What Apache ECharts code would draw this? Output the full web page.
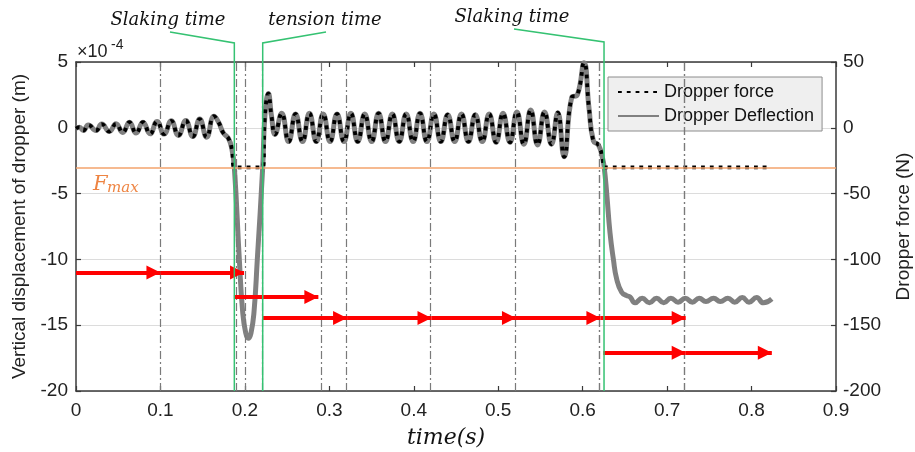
<!DOCTYPE html>
<html>
<head>
<meta charset="utf-8">
<script src="https://cdn.jsdelivr.net/npm/echarts@6/dist/echarts.min.js"></script>
<style>
html, body { margin: 0; padding: 0; background: #fff; }
#chart { width: 915px; height: 452px; }
</style>
</head>
<body>
<div id="chart"></div>
<script>
// 挠度曲线 (x10^-4 m)
const deflTime = [
  0.000, 0.004, 0.0087, 0.0146, 0.0237, 0.0305, 0.0395, 0.0474, 0.0553, 0.0632,
  0.0712, 0.0793, 0.0877, 0.0960, 0.1043, 0.1128, 0.1212, 0.1300, 0.1383, 0.1465,
  0.1547, 0.1634, 0.1690, 0.1745, 0.1805, 0.1845, 0.1875,
  0.1934, 0.1974, 0.2010, 0.2040, 0.2072, 0.2108, 0.2147, 0.2211,
  0.2238, 0.2278, 0.2315, 0.2357,
  0.2436, 0.2518, 0.2600, 0.2682, 0.2764, 0.2846, 0.2927, 0.3009, 0.3091, 0.3173,
  0.3255, 0.3337, 0.3419, 0.3501, 0.3583, 0.3665, 0.3746, 0.3828, 0.3910, 0.3992,
  0.4074, 0.4156, 0.4238, 0.4320, 0.4402, 0.4484, 0.4565, 0.4647, 0.4729, 0.4811,
  0.4893, 0.4975, 0.5057, 0.5139, 0.5221, 0.5303, 0.5384, 0.5466, 0.5548, 0.5630,
  0.5705, 0.5780, 0.5870, 0.5937, 0.6016, 0.6075, 0.6127, 0.6186, 0.6235, 0.6255,
  0.6285, 0.6324, 0.6364, 0.6403, 0.6462, 0.6520, 0.6560,
  0.6620, 0.6705, 0.6790, 0.6875, 0.6960, 0.7045, 0.7130, 0.7215, 0.7300, 0.7380,
  0.7460, 0.7550, 0.7630, 0.7720, 0.7800, 0.7890, 0.7970, 0.8060, 0.8140, 0.8240
]
const deflection = [
  -0.05, 0.05, -0.2, 0.22, -0.2, 0.28, -0.28, 0.3, -0.35, 0.42,
  -0.4, 0.43, -0.46, 0.48, -0.48, 0.53, -0.58, 0.55, -0.66, 0.66,
  -0.71, 0.88, 0.4, -0.4, -0.8, -1.6, -3.0,
  -10, -14, -15.6, -16, -15.6, -14, -10, -3.0,
  1.0, 2.6, 0.9, -0.5,
  1.1, -1.05, 1.05, -1.05, 1.1, -1.05, 1.05, -1.05, 1.05, -1.05,
  1.1, -1.05, 1.05, -1.05, 1.1, -1.05, 1.05, -1.05, 1.05, -1.05,
  1.1, -1.05, 1.05, -1.05, 1.0, -1.05, 1.05, -1.05, 1.0, -1.05,
  1.05, -1.1, 1.1, -1.1, 1.2, -1.25, 1.35, -1.3, 1.2, -1.25,
  1.15, -2.2, 2.3, 2.5, 4.95, 1.5, -1.0, -1.3, -2.3, -3.0,
  -5.0, -8.0, -10.0, -11.5, -12.5, -12.75, -12.85,
  -13.3, -12.95, -13.3, -12.95, -13.3, -12.95, -13.25, -12.95, -13.25, -12.95,
  -13.2, -12.95, -13.2, -12.95, -13.25, -12.9, -13.25, -12.9, -13.3, -13.0
]

// 吊弦力 (N)
const forceTime = [
  0.000, 0.004, 0.0087, 0.0146, 0.0237, 0.0305, 0.0395, 0.0474, 0.0553, 0.0632,
  0.0712, 0.0793, 0.0877, 0.0960, 0.1043, 0.1128, 0.1212, 0.1300, 0.1383, 0.1465,
  0.1547, 0.1634, 0.1690, 0.1745, 0.1805, 0.1845, 0.1875,
  0.2211,
  0.2238, 0.2278, 0.2315, 0.2357,
  0.2436, 0.2518, 0.2600, 0.2682, 0.2764, 0.2846, 0.2927, 0.3009, 0.3091, 0.3173,
  0.3255, 0.3337, 0.3419, 0.3501, 0.3583, 0.3665, 0.3746, 0.3828, 0.3910, 0.3992,
  0.4074, 0.4156, 0.4238, 0.4320, 0.4402, 0.4484, 0.4565, 0.4647, 0.4729, 0.4811,
  0.4893, 0.4975, 0.5057, 0.5139, 0.5221, 0.5303, 0.5384, 0.5466, 0.5548, 0.5630,
  0.5705, 0.5780, 0.5870, 0.5937, 0.6016, 0.6075, 0.6127, 0.6186, 0.6235, 0.6255,
  0.8200
]
const force = [
  -0.5, 0.5, -2, 2.2, -2, 2.8, -2.8, 3, -3.5, 4.2,
  -4, 4.3, -4.6, 4.8, -4.8, 5.3, -5.8, 5.5, -6.6, 6.6,
  -7.1, 8.8, 4, -4, -8, -16, -30,
  -30,
  10, 26, 9, -5,
  11, -10.5, 10.5, -10.5, 11, -10.5, 10.5, -10.5, 10.5, -10.5,
  11, -10.5, 10.5, -10.5, 11, -10.5, 10.5, -10.5, 10.5, -10.5,
  11, -10.5, 10.5, -10.5, 10, -10.5, 10.5, -10.5, 10, -10.5,
  10.5, -11, 11, -11, 12, -12.5, 13.5, -13, 12, -12.5,
  11.5, -22, 23, 25, 49.5, 15, -10, -13, -23, -30,
  -30
]

// 点划线竖线位置 (s)
const dashLines = [0.1, 0.1855, 0.1993, 0.2199, 0.287, 0.3213, 0.4212, 0.5211, 0.6194, 0.6229, 0.7204, 0.724]
// Fmax (x10^-4 m 对应 -30 N)
const fmaxLevel = -3
// 红色箭头 [起点, 终点, 高度]
const arrows = [
  [0, 0.1, -11], [0.1, 0.199, -11],
  [0.187, 0.287, -12.85],
  [0.2215, 0.321, -14.45], [0.321, 0.421, -14.45], [0.421, 0.521, -14.45], [0.521, 0.621, -14.45], [0.621, 0.722, -14.45],
  [0.6245, 0.722, -17.1], [0.722, 0.824, -17.1]
]
// 绿色标注线
const notes = [
  { t: 0.1875, label: 'Slaking time', elbow: [43, 170, 32], text: [168, 20] },
  { t: 0.2211, label: 'tension time', elbow: [43, 326, 32], text: [325, 20] },
  { t: 0.6253, label: 'Slaking time', elbow: [42, 514, 29], text: [512, 17] }
]

const sans = '"Liberation Sans", Arial, sans-serif'
const serif = '"DejaVu Serif", serif'
const axisColor = '#3a3a3a'
// 箭头：尖端落在终点上（方框中心）
const arrowHead = 'path://M-12,-12L-11.99,-12L-12,-11.99Z M12,12L11.99,12L12,11.99Z M0,0L6,12L-6,12Z'

const chart = echarts.init(document.getElementById('chart'))

const baseAxis = {
  axisLine: { show: true, onZero: false, lineStyle: { color: axisColor, width: 1.5 } },
  axisTick: { show: true, inside: true, length: 5, lineStyle: { color: axisColor, width: 1.2 } },
  axisLabel: { color: '#222', fontSize: 19, fontFamily: sans },
  splitLine: { show: false }
}

const option = {
  animation: false,
  backgroundColor: '#fff',
  grid: { left: 76, right: 79, top: 62, bottom: 61, containLabel: false, outerBoundsMode: 'none' },
  legend: {
    data: ['Dropper force', 'Dropper Deflection'],
    orient: 'vertical',
    left: 608,
    top: 77,
    backgroundColor: '#efefef',
    borderColor: '#8c8c8c',
    borderWidth: 1,
    padding: [6, 8, 6, 9],
    itemWidth: 41,
    itemHeight: 14,
    itemGap: 6,
    itemStyle: { opacity: 0 },
    textStyle: { fontSize: 18, color: '#111', fontFamily: sans }
  },
  xAxis: [
    {
      ...baseAxis, type: 'value', min: 0, max: 0.9, interval: 0.1, position: 'bottom',
      axisLabel: { ...baseAxis.axisLabel, margin: 10 },
      name: 'time(s)', nameLocation: 'middle', nameGap: 36,
      nameTextStyle: { fontFamily: serif, fontStyle: 'italic', fontSize: 22, color: '#111', padding: [0, 20, 0, 0] }
    },
    {
      ...baseAxis, type: 'value', min: 0, max: 0.9, interval: 0.1, position: 'top',
      axisLabel: { show: false }
    }
  ],
  yAxis: [
    {
      ...baseAxis, type: 'value', min: -20, max: 5, interval: 5, position: 'left',
      axisLabel: { ...baseAxis.axisLabel, margin: 8 },
      splitLine: { show: true, lineStyle: { color: '#dcdcdc', width: 1 } },
      name: 'Vertical displacement of dropper (m)', nameLocation: 'middle', nameGap: 44,
      nameTextStyle: { fontFamily: sans, fontSize: 19, color: '#222' }
    },
    {
      ...baseAxis, type: 'value', min: -200, max: 50, interval: 50, position: 'right',
      axisLabel: { ...baseAxis.axisLabel, margin: 7 },
      name: 'Dropper force (N)', nameLocation: 'middle', nameGap: 58,
      nameTextStyle: { fontFamily: sans, fontSize: 19, color: '#222' }
    }
  ],
  series: [
    {
      name: 'Dropper Deflection',
      type: 'line',
      xAxisIndex: 0,
      yAxisIndex: 0,
      data: deflTime.map((t, i) => [t, deflection[i]]),
      smooth: 0.5,
      symbol: 'none',
      color: '#808080',
      lineStyle: { color: '#808080', width: 5 },
      z: 3,
      markLine: {
        silent: true,
        symbol: ['none', 'none'],
        label: { show: false },
        data: [
          ...dashLines.map(x => ({ xAxis: x, lineStyle: { color: '#7a7a7a', width: 1.2, type: [8, 3, 2, 3] } })),
          { yAxis: fmaxLevel, lineStyle: { color: '#f3a36d', width: 1.5, type: 'solid' } }
        ]
      }
    },
    {
      name: 'Dropper force',
      type: 'line',
      xAxisIndex: 0,
      yAxisIndex: 1,
      data: forceTime.map((t, i) => [t, force[i]]),
      smooth: 0.5,
      symbol: 'none',
      color: '#000',
      lineStyle: { color: '#000', width: 3.8, type: [3.8, 5] },
      z: 4
    },
    {
      type: 'lines',
      coordinateSystem: 'cartesian2d',
      xAxisIndex: 0,
      yAxisIndex: 0,
      symbol: ['none', arrowHead],
      symbolSize: 28,
      lineStyle: { color: '#ff0000', width: 4, opacity: 1, curveness: 0 },
      data: arrows.map(a => ({ coords: [[a[0], a[2]], [a[1], a[2]]] })),
      z: 5
    }
  ]
}

chart.setOption(option)

// 标注：绿色引线、文字、Fmax、量级
function drawNotes() {
  const yBottom = chart.convertToPixel({ yAxisIndex: 0 }, -20)
  const yFmax = chart.convertToPixel({ yAxisIndex: 0 }, fmaxLevel)
  const elements = []
  notes.forEach(n => {
    const x = chart.convertToPixel({ xAxisIndex: 0 }, n.t)
    elements.push({
      type: 'polyline',
      shape: { points: [[x, yBottom], [x, n.elbow[0]], [n.elbow[1], n.elbow[2]]] },
      style: { stroke: '#35c272', lineWidth: 1.5, fill: null },
      z: 20
    })
    elements.push({
      type: 'text',
      x: n.text[0],
      y: n.text[1],
      style: { text: n.label, font: 'italic 18px ' + serif, fill: '#111', align: 'center', verticalAlign: 'middle' },
      z: 20
    })
  })
  elements.push({
    type: 'text', x: 93, y: yFmax + 17,
    style: { text: 'F', font: 'italic 21px ' + serif, fill: '#ee8442', align: 'left', verticalAlign: 'middle' },
    z: 20
  })
  elements.push({
    type: 'text', x: 107, y: yFmax + 21,
    style: { text: 'max', font: 'italic 15px ' + serif, fill: '#ee8442', align: 'left', verticalAlign: 'middle' },
    z: 20
  })
  elements.push({
    type: 'text', x: 77, y: 52,
    style: { text: '×10', font: '18px ' + sans, fill: '#222', align: 'left', verticalAlign: 'middle' },
    z: 20
  })
  elements.push({
    type: 'text', x: 111, y: 45,
    style: { text: '-4', font: '14px ' + sans, fill: '#222', align: 'left', verticalAlign: 'middle' },
    z: 20
  })
  chart.setOption({ graphic: elements })
}

drawNotes()
</script>
</body>
</html>
